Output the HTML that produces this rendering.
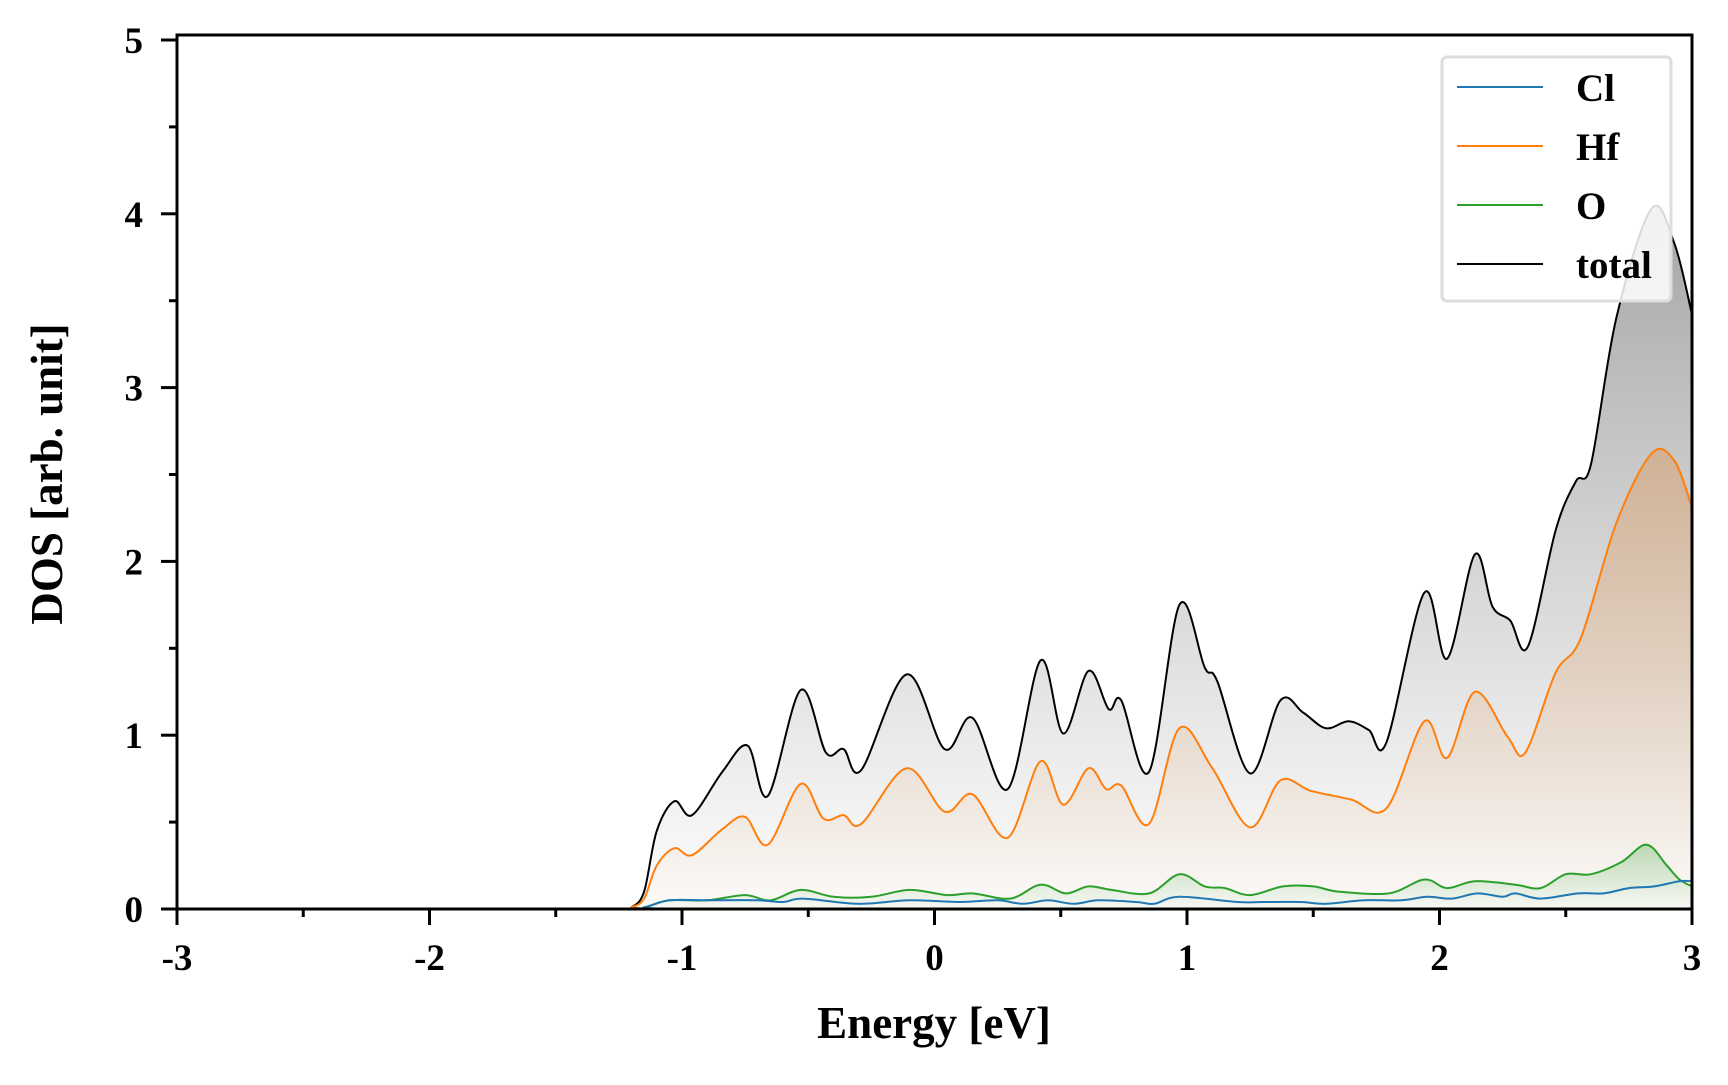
<!DOCTYPE html>
<html><head><meta charset="utf-8"><style>
html,body{margin:0;padding:0;background:#fff;}
svg text{font-family:"Liberation Serif",serif;font-weight:bold;fill:#000;}
</style></head><body>
<svg id="s" width="1728" height="1080" viewBox="0 0 1728 1080" xmlns="http://www.w3.org/2000/svg">
<defs>
<linearGradient id="gT" gradientUnits="userSpaceOnUse" x1="0" y1="210" x2="0" y2="909">
<stop offset="0" stop-color="#888" stop-opacity="0.75"/><stop offset="1" stop-color="#999" stop-opacity="0.02"/></linearGradient>
<linearGradient id="gH" gradientUnits="userSpaceOnUse" x1="0" y1="450" x2="0" y2="909">
<stop offset="0" stop-color="#e08a3a" stop-opacity="0.35"/><stop offset="1" stop-color="#e08a3a" stop-opacity="0.02"/></linearGradient>
<linearGradient id="gO" gradientUnits="userSpaceOnUse" x1="0" y1="840" x2="0" y2="909">
<stop offset="0" stop-color="#2ca02c" stop-opacity="0.3"/><stop offset="1" stop-color="#2ca02c" stop-opacity="0.02"/></linearGradient>
<clipPath id="cp"><rect x="177" y="35" width="1515" height="874"/></clipPath>
</defs>
<g id="plot" clip-path="url(#cp)"></g>
<rect x="177" y="35" width="1515" height="874" fill="none" stroke="#000" stroke-width="3"/>
<g id="ax"></g>
<text x="934" y="1038" font-size="45" text-anchor="middle">Energy [eV]</text>
<text transform="translate(62,474) rotate(-90)" font-size="45" text-anchor="middle">DOS [arb. unit]</text>
<rect x="1442" y="57" width="229" height="244" fill="#fff" fill-opacity="0.85" stroke="#ddd" stroke-width="3" rx="5"/>
<line x1="1457" x2="1543" y1="87" y2="87" stroke="#1f77b4" stroke-width="2"/>
<line x1="1457" x2="1543" y1="146" y2="146" stroke="#ff7f0e" stroke-width="2"/>
<line x1="1457" x2="1543" y1="205" y2="205" stroke="#2ca02c" stroke-width="2"/>
<line x1="1457" x2="1543" y1="264" y2="264" stroke="#000" stroke-width="2"/>
<text x="1576" y="101" font-size="39">Cl</text>
<text x="1576" y="160" font-size="39">Hf</text>
<text x="1576" y="219" font-size="39">O</text>
<text x="1576" y="278" font-size="39">total</text>
</svg>
<script>
var X=function(v){return 177+(v+3)*252.5},Y=function(v){return 909-v*173.8};
var T=[[-3,0],[-1.25,0],[-1.2,0.01],[-1.15,0.1],[-1.1,0.45],[-1.03,0.62],[-0.96,0.54],[-0.84,0.79],[-0.74,0.94],[-0.66,0.65],[-0.53,1.26],[-0.43,0.9],[-0.36,0.92],[-0.29,0.8],[-0.11,1.35],[0.04,0.92],[0.15,1.1],[0.29,0.69],[0.42,1.43],[0.51,1.01],[0.61,1.37],[0.69,1.15],[0.74,1.2],[0.85,0.79],[0.97,1.75],[1.07,1.39],[1.12,1.31],[1.25,0.78],[1.37,1.2],[1.46,1.13],[1.55,1.04],[1.64,1.08],[1.72,1.03],[1.79,0.96],[1.94,1.82],[2.03,1.44],[2.14,2.04],[2.21,1.74],[2.28,1.66],[2.35,1.51],[2.46,2.18],[2.54,2.46],[2.6,2.56],[2.7,3.4],[2.84,4.03],[2.93,3.83],[3,3.42]];
var H=[[-3,0],[-1.25,0],[-1.2,0.01],[-1.15,0.06],[-1.1,0.25],[-1.03,0.35],[-0.96,0.31],[-0.84,0.46],[-0.75,0.53],[-0.66,0.37],[-0.53,0.72],[-0.44,0.52],[-0.36,0.54],[-0.29,0.49],[-0.11,0.81],[0.04,0.56],[0.15,0.66],[0.29,0.41],[0.42,0.85],[0.51,0.6],[0.61,0.81],[0.68,0.69],[0.74,0.71],[0.85,0.49],[0.97,1.04],[1.1,0.81],[1.25,0.47],[1.37,0.74],[1.49,0.68],[1.65,0.63],[1.79,0.58],[1.94,1.08],[2.03,0.87],[2.14,1.25],[2.27,0.99],[2.34,0.9],[2.46,1.36],[2.56,1.56],[2.7,2.22],[2.84,2.62],[2.93,2.58],[3,2.31]];
var O=[[-3,0],[-1.25,0],[-1.15,0.01],[-1.05,0.05],[-0.9,0.05],[-0.75,0.08],[-0.65,0.05],[-0.53,0.11],[-0.4,0.07],[-0.25,0.07],[-0.1,0.11],[0.05,0.08],[0.15,0.09],[0.3,0.06],[0.42,0.14],[0.52,0.09],[0.61,0.13],[0.7,0.11],[0.85,0.09],[0.97,0.2],[1.07,0.13],[1.15,0.12],[1.25,0.08],[1.38,0.13],[1.5,0.13],[1.6,0.1],[1.8,0.09],[1.94,0.17],[2.03,0.12],[2.14,0.16],[2.3,0.14],[2.4,0.12],[2.5,0.2],[2.6,0.2],[2.72,0.27],[2.82,0.37],[2.9,0.25],[2.95,0.17],[3,0.13]];
var C=[[-3,0],[-1.25,0],[-1.15,0.01],[-1.05,0.05],[-0.9,0.05],[-0.7,0.05],[-0.6,0.04],[-0.52,0.06],[-0.3,0.03],[-0.1,0.05],[0.1,0.04],[0.25,0.05],[0.35,0.03],[0.45,0.05],[0.55,0.03],[0.65,0.05],[0.8,0.04],[0.87,0.03],[0.97,0.07],[1.2,0.04],[1.3,0.04],[1.45,0.04],[1.55,0.03],[1.7,0.05],[1.85,0.05],[1.95,0.07],[2.05,0.06],[2.15,0.09],[2.25,0.07],[2.3,0.09],[2.4,0.06],[2.55,0.09],[2.65,0.09],[2.75,0.12],[2.85,0.13],[2.95,0.16],[3,0.16]];
function path(d){var p=d.map(function(a){return[X(a[0]),Y(a[1])]});var s="M"+p[0][0]+","+p[0][1];
for(var i=0;i<p.length-1;i++){var p0=p[i-1]||p[i],p1=p[i],p2=p[i+1],p3=p[i+2]||p2;
var c1x=p1[0]+(p2[0]-p0[0])/6,c1y=p1[1]+(p2[1]-p0[1])/6,c2x=p2[0]-(p3[0]-p1[0])/6,c2y=p2[1]-(p3[1]-p1[1])/6;
c1y=Math.min(c1y,909);c2y=Math.min(c2y,909);
s+=" C"+c1x.toFixed(1)+","+c1y.toFixed(1)+" "+c2x.toFixed(1)+","+c2y.toFixed(1)+" "+p2[0].toFixed(1)+","+p2[1].toFixed(1);}return s;}
var g=document.getElementById("plot"),h="";
[[T,"url(#gT)"],[H,"url(#gH)"],[O,"url(#gO)"]].forEach(function(a){h+='<path d="'+path(a[0])+' L1692,909 L177,909 Z" fill="'+a[1]+'"/>';});
[[T,"#000"],[H,"#ff7f0e"],[O,"#2ca02c"],[C,"#1f77b4"]].forEach(function(a){h+='<path d="'+path(a[0])+'" fill="none" stroke="'+a[1]+'" stroke-width="2"/>';});
g.innerHTML=h;
var ax="";
for(var i=-3;i<=3;i+=0.5){var x=X(i),maj=Math.abs(i-Math.round(i))<1e-6;
ax+='<line x1="'+x+'" x2="'+x+'" y1="909" y2="'+(maj?925:917)+'" stroke="#000" stroke-width="3"/>';
if(maj)ax+='<text x="'+x+'" y="970" font-size="37" text-anchor="middle">'+i+'</text>';}
for(var j=0;j<=5;j+=0.5){var y=Y(j),maj=Math.abs(j-Math.round(j))<1e-6;
ax+='<line x1="177" x2="'+(maj?161:169)+'" y1="'+y+'" y2="'+y+'" stroke="#000" stroke-width="3"/>';
if(maj)ax+='<text x="143" y="'+(y+13)+'" font-size="37" text-anchor="end">'+j+'</text>';}
document.getElementById("ax").innerHTML=ax;
</script>
</body></html>
